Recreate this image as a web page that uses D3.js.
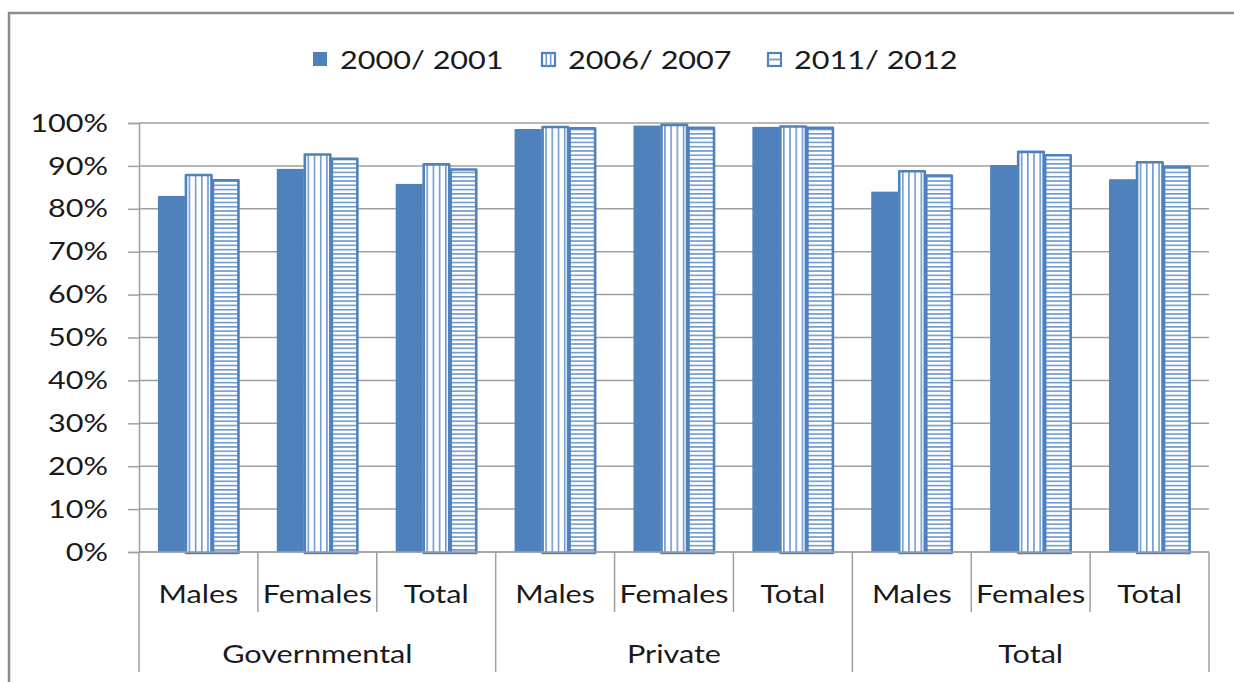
<!DOCTYPE html>
<html>
<head>
<meta charset="utf-8">
<script src="https://cdn.jsdelivr.net/npm/d3@7"></script>
<style>
  body { margin: 0; background: #fff; }
  text { font-family: Lato, "Open Sans", sans-serif; fill: #1a1a1a; }
</style>
</head>
<body>
<div id="chart"></div>
<script>
// data
var groups = ["Governmental", "Private", "Total"];
var subCats = ["Males", "Females", "Total"];
var seriesNames = ["2000/ 2001", "2006/ 2007", "2011/ 2012"];
var s2000 = [83.0, 89.3, 85.8, 98.6, 99.4, 99.1, 84.0, 90.2, 86.9];
var s2006 = [88.1, 92.9, 90.6, 99.3, 99.8, 99.4, 89.0, 93.5, 91.1];
var s2011 = [86.9, 91.9, 89.4, 99.0, 99.1, 99.1, 88.0, 92.7, 90.0];
var yTicks = [0, 10, 20, 30, 40, 50, 60, 70, 80, 90, 100];

var svgWidth = 1234;
var svgHeight = 682;
var plot = { left: 139, right: 1209, top: 123, bottom: 552 };
var blue = "#4F81BD";
var lineBlue = "#6F9AD0";
var grid = "#A0A0A0";
var fontSize = "25.5px";
var sx = 1.2; // the original text is stretched sideways

var svg = d3.select("#chart")
  .append("svg")
  .attr("width", svgWidth)
  .attr("height", svgHeight);

svg.append("rect")
  .attr("width", "100%")
  .attr("height", "100%")
  .attr("fill", "#fff");

// outer frame (cut off on the right and bottom)
svg.append("rect")
  .attr("x", 9)
  .attr("y", 13)
  .attr("width", 1300)
  .attr("height", 800)
  .attr("fill", "none")
  .attr("stroke", "#8c8c8c")
  .attr("stroke-width", 2.5);

var defs = svg.append("defs");
var pv = defs.append("pattern")
  .attr("id", "vert")
  .attr("patternUnits", "userSpaceOnUse")
  .attr("width", 6.2)
  .attr("height", 10);
pv.append("rect").attr("width", 6.2).attr("height", 10).attr("fill", "#fff");
pv.append("rect").attr("x", 0).attr("width", 1.6).attr("height", 10).attr("fill", lineBlue);

var ph = defs.append("pattern")
  .attr("id", "horiz")
  .attr("patternUnits", "userSpaceOnUse")
  .attr("width", 10)
  .attr("height", 4.29);
ph.append("rect").attr("width", 10).attr("height", 4.29).attr("fill", "#fff");
ph.append("rect").attr("y", 0).attr("width", 10).attr("height", 1.6).attr("fill", lineBlue);

var fills = [blue, "url(#vert)", "url(#horiz)"];

// places a text at (x, y) and stretches it sideways around that point
function placeText(sel, fx, fy) {
  sel.attr("transform", function(d, i) {
    return `translate(${fx(d, i)}, ${fy(d, i)}) scale(${sx}, 1)`;
  });
}

// table built from the arrays
var cats = [];
groups.forEach(function(g, gi) {
  subCats.forEach(function(c, ci) {
    var i = gi * 3 + ci;
    cats.push({ key: i, group: g, label: c, values: [s2000[i], s2006[i], s2011[i]] });
  });
});

var x0 = d3.scaleBand()
  .domain(cats.map(d => d.key))
  .range([plot.left, plot.right])
  .paddingInner(0)
  .paddingOuter(0);

var x1 = d3.scaleBand()
  .domain(d3.range(seriesNames.length))
  .range([0, x0.bandwidth()])
  .paddingInner(0)
  .paddingOuter(0.7);

var y = d3.scaleLinear()
  .domain([0, 100])
  .range([plot.bottom, plot.top]);

// gridlines
svg.append("g")
  .selectAll("line")
  .data(yTicks)
  .enter()
  .append("line")
  .attr("x1", plot.left)
  .attr("x2", plot.right)
  .attr("y1", d => y(d))
  .attr("y2", d => y(d))
  .attr("stroke", grid)
  .attr("stroke-width", 1.5);

// y axis
var yAxis = d3.axisLeft(y)
  .tickValues(yTicks)
  .tickFormat(d => d + "%")
  .tickSize(11)
  .tickPadding(20);

var yAxisG = svg.append("g")
  .attr("transform", `translate(${plot.left}, 0)`)
  .call(yAxis);
yAxisG.select(".domain").attr("stroke", grid).attr("stroke-width", 1.5);
yAxisG.selectAll(".tick line").attr("stroke", grid).attr("stroke-width", 1.5);
yAxisG.selectAll(".tick text")
  .attr("x", null)
  .style("font-size", fontSize)
  .attr("fill", "#1a1a1a")
  .attr("transform", `translate(-31, 0) scale(${sx}, 1)`);

// bars
var catG = svg.append("g")
  .selectAll("g")
  .data(cats)
  .enter()
  .append("g")
  .attr("transform", d => `translate(${x0(d.key)}, 0)`);

catG.selectAll("rect")
  .data(d => d.values.map((v, i) => ({ s: i, v: v })))
  .enter()
  .append("rect")
  .attr("x", d => x1(d.s) + (d.s > 0 ? 1 : 0))
  .attr("width", d => x1.bandwidth() - (d.s > 0 ? 1.5 : 0))
  .attr("y", d => y(d.v) + (d.s > 0 ? 1 : 0))
  .attr("height", d => y(0) - y(d.v))
  .attr("fill", d => fills[d.s])
  .attr("stroke", d => d.s > 0 ? blue : "none")
  .attr("stroke-width", 2.6)
  .attr("stroke-linejoin", "round");

// category axis
var axisG = svg.append("g");
axisG.append("line")
  .attr("x1", plot.left).attr("x2", plot.right)
  .attr("y1", y(0)).attr("y2", y(0))
  .attr("stroke", grid).attr("stroke-width", 1.5);

var boundaries = d3.range(cats.length + 1);
axisG.selectAll(".ctick")
  .data(boundaries)
  .enter()
  .append("line")
  .attr("class", "ctick")
  .attr("x1", d => plot.left + d * x0.step())
  .attr("x2", d => plot.left + d * x0.step())
  .attr("y1", y(0))
  .attr("y2", d => d % 3 === 0 ? 672 : 612)
  .attr("stroke", grid)
  .attr("stroke-width", 1.5);

axisG.selectAll(".clabel")
  .data(cats)
  .enter()
  .append("text")
  .attr("class", "clabel")
  .attr("text-anchor", "middle")
  .style("font-size", fontSize)
  .text(d => d.label)
  .call(placeText, d => x0(d.key) + x0.bandwidth() / 2, () => 603);

axisG.selectAll(".glabel")
  .data(groups)
  .enter()
  .append("text")
  .attr("class", "glabel")
  .attr("text-anchor", "middle")
  .style("font-size", fontSize)
  .text(d => d)
  .call(placeText, (d, i) => plot.left + (i * 3 + 1.5) * x0.step(), () => 663);

// legend
var legendX = [313, 541, 767];
var legend = svg.append("g")
  .selectAll("g")
  .data(seriesNames)
  .enter()
  .append("g")
  .attr("transform", (d, i) => `translate(${legendX[i]}, 52)`);

legend.append("rect")
  .attr("x", (d, i) => i > 0 ? 1 : 0)
  .attr("y", (d, i) => i > 0 ? 1 : 0)
  .attr("width", (d, i) => i > 0 ? 13 : 14)
  .attr("height", (d, i) => i > 0 ? 13 : 14)
  .attr("fill", (d, i) => i === 0 ? blue : "#fff")
  .attr("stroke", (d, i) => i > 0 ? blue : "none")
  .attr("stroke-width", 2.2);

// hatch marks inside the legend keys
legend.filter((d, i) => i === 1).selectAll(".hl")
  .data([5.3, 9.7])
  .enter()
  .append("line")
  .attr("x1", d => d).attr("x2", d => d)
  .attr("y1", 1).attr("y2", 14)
  .attr("stroke", lineBlue).attr("stroke-width", 1.6);
legend.filter((d, i) => i === 2)
  .append("line")
  .attr("x1", 1).attr("x2", 14)
  .attr("y1", 7.5).attr("y2", 7.5)
  .attr("stroke", lineBlue).attr("stroke-width", 1.8);

legend.append("text")
  .style("font-size", fontSize)
  .text(d => d)
  .call(placeText, () => 27, () => 17);
</script>
</body>
</html>
